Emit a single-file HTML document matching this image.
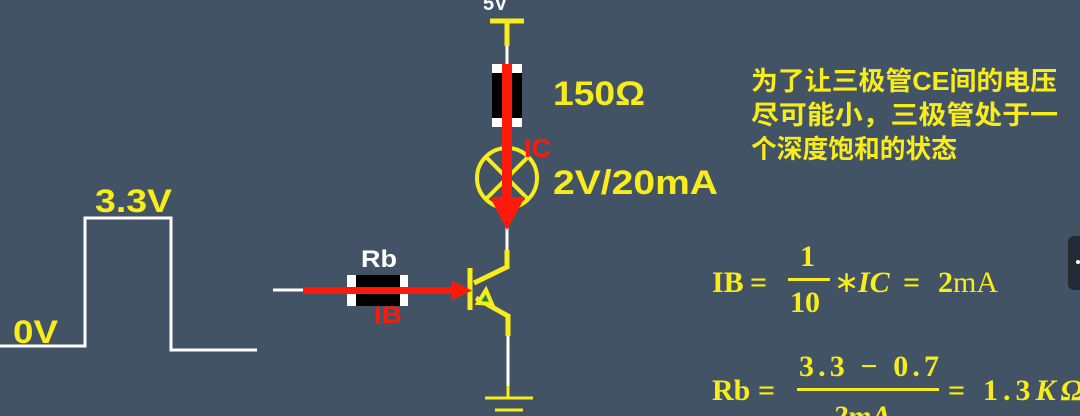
<!DOCTYPE html>
<html><head><meta charset="utf-8"><style>
html,body{margin:0;padding:0;background:#435366;width:1080px;height:416px;overflow:hidden}
svg{display:block}
</style></head><body>
<svg width="1080" height="416" viewBox="0 0 1080 416" xmlns="http://www.w3.org/2000/svg">
<rect width="1080" height="416" fill="#435366"/>
<polyline points="0,346 85,346 85,218 171,218 171,350 257,350" fill="none" stroke="#fff" stroke-width="3"/>
<text x="95" y="212" textLength="77" lengthAdjust="spacingAndGlyphs" font-family="Liberation Sans, sans-serif" font-weight="bold" font-size="32" fill="#f8ec1a">3.3V</text>
<text x="13" y="343" textLength="45" lengthAdjust="spacingAndGlyphs" font-family="Liberation Sans, sans-serif" font-weight="bold" font-size="32" fill="#f8ec1a">0V</text>
<text x="483" y="10" font-family="Liberation Sans, sans-serif" font-weight="bold" font-size="20" fill="#fff">5V</text>
<line x1="490" y1="21" x2="524" y2="21" stroke="#f8ec1a" stroke-width="5"/>
<line x1="507" y1="21" x2="507" y2="46" stroke="#f8ec1a" stroke-width="5"/>
<line x1="507" y1="46" x2="507" y2="64" stroke="#fff" stroke-width="3"/>
<rect x="492" y="64" width="30" height="63" fill="#fff"/>
<rect x="492" y="73" width="30" height="45" fill="#000"/>
<line x1="507" y1="127" x2="507" y2="150" stroke="#fff" stroke-width="3"/>
<circle cx="507" cy="178" r="30" fill="none" stroke="#f8ec1a" stroke-width="4"/>
<line x1="486" y1="157" x2="528" y2="199" stroke="#f8ec1a" stroke-width="4"/>
<line x1="528" y1="157" x2="486" y2="199" stroke="#f8ec1a" stroke-width="4"/>
<line x1="507" y1="208" x2="507" y2="250" stroke="#fff" stroke-width="3"/>
<polyline points="507,250 507,267 474,283" fill="none" stroke="#f8ec1a" stroke-width="5"/>
<line x1="470" y1="268" x2="470" y2="310" stroke="#f8ec1a" stroke-width="5"/>
<polyline points="476,298 508,316 508,336" fill="none" stroke="#f8ec1a" stroke-width="5"/>
<polygon points="478,303 486,290 492,304" fill="#1a8a3a" stroke="#f8ec1a" stroke-width="4"/>
<line x1="508" y1="336" x2="508" y2="386" stroke="#fff" stroke-width="3"/>
<line x1="508" y1="386" x2="508" y2="398" stroke="#f8ec1a" stroke-width="3"/>
<line x1="485" y1="398" x2="533" y2="398" stroke="#f8ec1a" stroke-width="3"/>
<line x1="495" y1="410" x2="523" y2="410" stroke="#f8ec1a" stroke-width="3"/>
<line x1="273" y1="290" x2="305" y2="290" stroke="#fff" stroke-width="3"/>
<rect x="347" y="275" width="61" height="31" fill="#fff"/>
<rect x="356" y="275" width="44" height="31" fill="#000"/>
<text x="361" y="267" textLength="36" lengthAdjust="spacingAndGlyphs" font-family="Liberation Sans, sans-serif" font-weight="bold" font-size="24" fill="#fff">Rb</text>
<rect x="303" y="287" width="152" height="7" fill="#fe1a0a"/>
<polygon points="452,281 472,290.5 452,300" fill="#fe1a0a"/>
<text x="374" y="323" textLength="28" lengthAdjust="spacingAndGlyphs" font-family="Liberation Sans, sans-serif" font-weight="bold" font-size="24" fill="#fe1a0a">IB</text>
<rect x="502" y="64" width="10" height="135" fill="#fe1a0a"/>
<polygon points="490,197 525,197 507,230" fill="#fe1a0a"/>
<text x="524" y="157" textLength="27" lengthAdjust="spacingAndGlyphs" font-family="Liberation Sans, sans-serif" font-weight="bold" font-size="26" fill="#fe1a0a">IC</text>
<text x="553" y="105" textLength="92" lengthAdjust="spacingAndGlyphs" font-family="Liberation Sans, sans-serif" font-weight="bold" font-size="34" fill="#f8ec1a">150Ω</text>
<text x="553" y="194" textLength="165" lengthAdjust="spacingAndGlyphs" font-family="Liberation Sans, sans-serif" font-weight="bold" font-size="34" fill="#f8ec1a">2V/20mA</text>
<g font-family="Liberation Sans, 'Noto Sans CJK SC', sans-serif" font-weight="bold" font-size="26" fill="#f8ec1a">
<text x="751" y="90" textLength="306" lengthAdjust="spacingAndGlyphs">为了让三极管CE间的电压</text>
<text x="751" y="124" textLength="307" lengthAdjust="spacingAndGlyphs">尽可能小，三极管处于一</text>
<text x="751" y="158" textLength="206" lengthAdjust="spacingAndGlyphs">个深度饱和的状态</text>
</g>
<g font-family="Liberation Serif, serif" font-weight="bold" font-size="30" fill="#f8ec1a">
<text x="712" y="292">IB</text>
<text x="750" y="292">=</text>
<text x="800" y="266">1</text>
<rect x="788" y="278" width="42" height="3"/>
<text x="790" y="312">10</text>
<text x="834" y="292" font-weight="normal">∗</text>
<text x="858" y="292" font-style="italic">IC</text>
<text x="903" y="292">=</text>
<text x="938" y="292">2<tspan font-weight="normal">mA</tspan></text>
<text x="712" y="400">Rb</text>
<text x="758" y="400">=</text>
<text x="799" y="376" textLength="140" lengthAdjust="spacing">3.3 − 0.7</text>
<rect x="797" y="388" width="142" height="3"/>
<text x="833" y="426" font-style="italic">2mA</text>
<text x="948" y="400">=</text>
<text x="983" y="400" textLength="100" lengthAdjust="spacing">1.3<tspan font-style="italic">KΩ</tspan></text>
</g>
<rect x="1068" y="236" width="20" height="54" rx="6" fill="#222b36"/>
<circle cx="1078" cy="262" r="2" fill="#fff"/>
</svg>
</body></html>
